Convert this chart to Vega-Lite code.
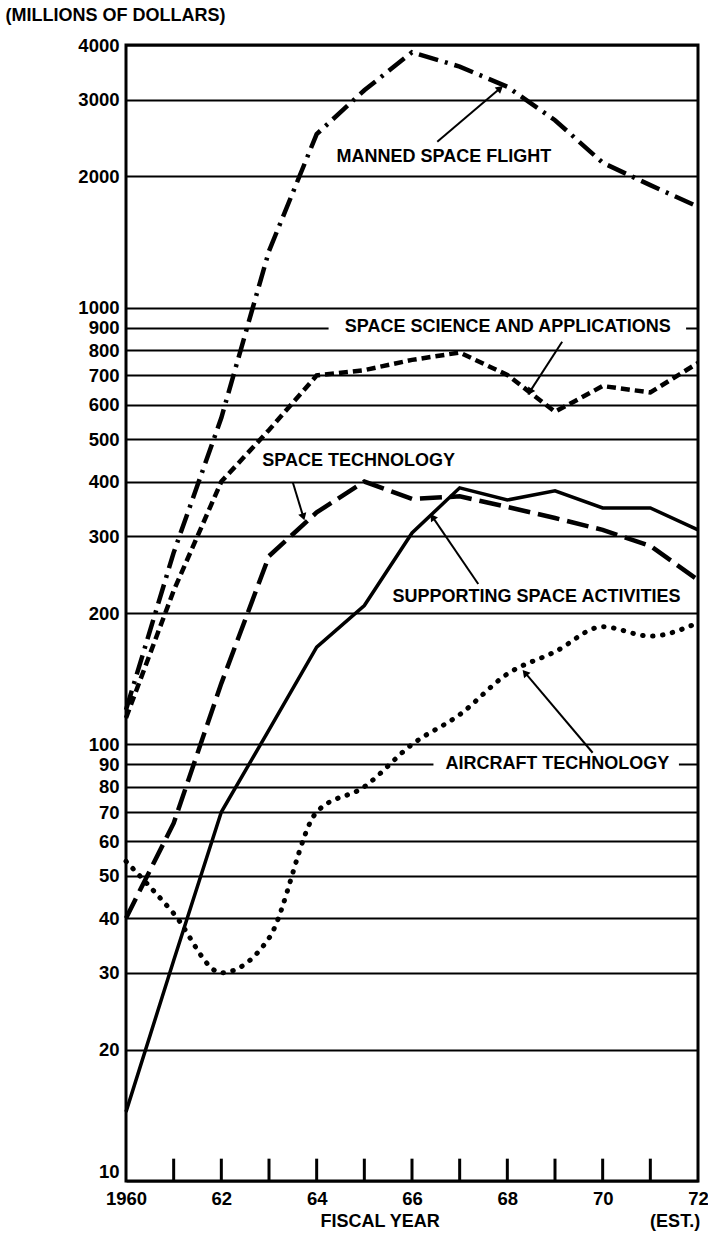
{
  "$schema": "https://vega.github.io/schema/vega-lite/v6.json",
  "width": 572,
  "height": 1136,
  "autosize": {"type": "none"},
  "padding": {"left": 126, "top": 45, "right": 10, "bottom": 60},
  "background": "white",
  "config": {
    "view": {"stroke": "black", "strokeWidth": 3},
    "font": "Liberation Sans"
  },
  "datasets": {
    "budget": [
      {"series": "Manned Space Flight", "year": 1960, "value": 120},
      {"series": "Manned Space Flight", "year": 1961, "value": 275},
      {"series": "Manned Space Flight", "year": 1962, "value": 560},
      {"series": "Manned Space Flight", "year": 1963, "value": 1350},
      {"series": "Manned Space Flight", "year": 1964, "value": 2500},
      {"series": "Manned Space Flight", "year": 1965, "value": 3150},
      {"series": "Manned Space Flight", "year": 1966, "value": 3850},
      {"series": "Manned Space Flight", "year": 1967, "value": 3570},
      {"series": "Manned Space Flight", "year": 1968, "value": 3210},
      {"series": "Manned Space Flight", "year": 1969, "value": 2690},
      {"series": "Manned Space Flight", "year": 1970, "value": 2150},
      {"series": "Manned Space Flight", "year": 1971, "value": 1910},
      {"series": "Manned Space Flight", "year": 1972, "value": 1705},
      {"series": "Space Science and Applications", "year": 1960, "value": 115},
      {"series": "Space Science and Applications", "year": 1961, "value": 225},
      {"series": "Space Science and Applications", "year": 1962, "value": 400},
      {"series": "Space Science and Applications", "year": 1963, "value": 525},
      {"series": "Space Science and Applications", "year": 1964, "value": 700},
      {"series": "Space Science and Applications", "year": 1965, "value": 720},
      {"series": "Space Science and Applications", "year": 1966, "value": 760},
      {"series": "Space Science and Applications", "year": 1967, "value": 790},
      {"series": "Space Science and Applications", "year": 1968, "value": 702},
      {"series": "Space Science and Applications", "year": 1969, "value": 578},
      {"series": "Space Science and Applications", "year": 1970, "value": 662},
      {"series": "Space Science and Applications", "year": 1971, "value": 640},
      {"series": "Space Science and Applications", "year": 1972, "value": 748},
      {"series": "Space Technology", "year": 1960, "value": 40},
      {"series": "Space Technology", "year": 1961, "value": 66},
      {"series": "Space Technology", "year": 1962, "value": 138},
      {"series": "Space Technology", "year": 1963, "value": 270},
      {"series": "Space Technology", "year": 1964, "value": 340},
      {"series": "Space Technology", "year": 1965, "value": 400},
      {"series": "Space Technology", "year": 1966, "value": 365},
      {"series": "Space Technology", "year": 1967, "value": 370},
      {"series": "Space Technology", "year": 1968, "value": 350},
      {"series": "Space Technology", "year": 1969, "value": 330},
      {"series": "Space Technology", "year": 1970, "value": 310},
      {"series": "Space Technology", "year": 1971, "value": 285},
      {"series": "Space Technology", "year": 1972, "value": 238},
      {"series": "Supporting Space Activities", "year": 1960, "value": 14.4},
      {"series": "Supporting Space Activities", "year": 1961, "value": 32},
      {"series": "Supporting Space Activities", "year": 1962, "value": 70},
      {"series": "Supporting Space Activities", "year": 1963, "value": 108},
      {"series": "Supporting Space Activities", "year": 1964, "value": 167},
      {"series": "Supporting Space Activities", "year": 1965, "value": 208},
      {"series": "Supporting Space Activities", "year": 1966, "value": 305},
      {"series": "Supporting Space Activities", "year": 1967, "value": 387},
      {"series": "Supporting Space Activities", "year": 1968, "value": 363},
      {"series": "Supporting Space Activities", "year": 1969, "value": 381},
      {"series": "Supporting Space Activities", "year": 1970, "value": 348},
      {"series": "Supporting Space Activities", "year": 1971, "value": 348},
      {"series": "Supporting Space Activities", "year": 1972, "value": 310},
      {"series": "Aircraft Technology", "year": 1960, "value": 54},
      {"series": "Aircraft Technology", "year": 1961, "value": 41},
      {"series": "Aircraft Technology", "year": 1962, "value": 30},
      {"series": "Aircraft Technology", "year": 1963, "value": 36},
      {"series": "Aircraft Technology", "year": 1964, "value": 70},
      {"series": "Aircraft Technology", "year": 1965, "value": 80},
      {"series": "Aircraft Technology", "year": 1966, "value": 100},
      {"series": "Aircraft Technology", "year": 1967, "value": 117},
      {"series": "Aircraft Technology", "year": 1968, "value": 145},
      {"series": "Aircraft Technology", "year": 1969, "value": 163},
      {"series": "Aircraft Technology", "year": 1970, "value": 186},
      {"series": "Aircraft Technology", "year": 1971, "value": 177},
      {"series": "Aircraft Technology", "year": 1972, "value": 190}
    ],
    "labels": [
      {"text": "MANNED SPACE FLIGHT", "year": 1966.67, "value": 2215},
      {"text": "SPACE SCIENCE AND APPLICATIONS", "year": 1968.01, "value": 903},
      {"text": "SPACE TECHNOLOGY", "year": 1964.88, "value": 446},
      {"text": "SUPPORTING SPACE ACTIVITIES", "year": 1968.61, "value": 218},
      {"text": "AIRCRAFT TECHNOLOGY", "year": 1969.05, "value": 90},
      {"text": "FISCAL YEAR", "year": 1965.33, "value": 8.05},
      {"text": "(EST.)", "year": 1971.52, "value": 8.05}
    ],
    "arrows": [
      {"label": "manned", "year": 1966.53, "value": 2401, "year2": 1967.85, "value2": 3184},
      {"label": "science", "year": 1969.15, "value": 836, "year2": 1968.47, "value2": 642},
      {"label": "tech", "year": 1963.5, "value": 398, "year2": 1963.72, "value2": 332},
      {"label": "supporting", "year": 1967.39, "value": 233, "year2": 1966.43, "value2": 332},
      {"label": "aircraft", "year": 1969.79, "value": 95.7, "year2": 1968.37, "value2": 146}
    ],
    "masks": [
      {"year": 1964.25, "year2": 1971.75, "value": 875, "value2": 930},
      {"year": 1966.45, "year2": 1971.6, "value": 87, "value2": 93}
    ],
    "ticks": [
      {"year": 1961, "value": 10, "value2": 11.25},
      {"year": 1962, "value": 10, "value2": 11.25},
      {"year": 1963, "value": 10, "value2": 11.25},
      {"year": 1964, "value": 10, "value2": 11.25},
      {"year": 1965, "value": 10, "value2": 11.25},
      {"year": 1966, "value": 10, "value2": 11.25},
      {"year": 1967, "value": 10, "value2": 11.25},
      {"year": 1968, "value": 10, "value2": 11.25},
      {"year": 1969, "value": 10, "value2": 11.25},
      {"year": 1970, "value": 10, "value2": 11.25},
      {"year": 1971, "value": 10, "value2": 11.25}
    ]
  },
  "encoding": {
    "x": {
      "field": "year",
      "type": "quantitative",
      "scale": {"domain": [1960, 1972], "nice": false, "zero": false},
      "axis": {
        "values": [1960, 1962, 1964, 1966, 1968, 1970, 1972],
        "labelExpr": "datum.value == 1960 ? '1960' : substring(toString(datum.value), 2)",
        "ticks": false,
        "grid": false,
        "domain": false,
        "labelFlush": false,
        "labelOverlap": false,
        "labelPadding": 8,
        "labelFontSize": 18.5,
        "labelFontWeight": "bold",
        "labelColor": "black",
        "title": null
      }
    },
    "y": {
      "field": "value",
      "type": "quantitative",
      "scale": {"type": "log", "domain": [10, 4000], "nice": false},
      "axis": {
        "values": [10, 20, 30, 40, 50, 60, 70, 80, 90, 100, 200, 300, 400, 500, 600, 700, 800, 900, 1000, 2000, 3000, 4000],
        "format": "d",
        "grid": true,
        "gridColor": "black",
        "gridWidth": 2,
        "gridOpacity": 1,
        "ticks": false,
        "domain": false,
        "labelFlush": false,
        "labelOverlap": false,
        "labelBound": false,
        "labelPadding": 7,
        "labelFontSize": 18.5,
        "labelFontWeight": "bold",
        "labelBaseline": {"condition": {"test": "datum.value == 10", "value": "bottom"}, "value": "middle"},
        "labelColor": "black",
        "title": "(MILLIONS OF DOLLARS)",
        "titleAngle": 0,
        "titleAlign": "left",
        "titleBaseline": "middle",
        "titleX": -121,
        "titleY": -30,
        "titleFontSize": 18,
        "titleFontWeight": "bold",
        "titleColor": "black"
      }
    }
  },
  "layer": [
    {
      "data": {"name": "masks"},
      "mark": {"type": "rect", "color": "white"},
      "encoding": {"x2": {"field": "year2"}, "y2": {"field": "value2"}}
    },
    {
      "data": {"name": "budget"},
      "transform": [{"filter": "datum.series == 'Manned Space Flight'"}],
      "mark": {"type": "line", "color": "black", "strokeWidth": 4.5, "strokeDash": [20, 7, 3, 7]}
    },
    {
      "data": {"name": "budget"},
      "transform": [{"filter": "datum.series == 'Space Science and Applications'"}],
      "mark": {"type": "line", "color": "black", "strokeWidth": 4.5, "strokeDash": [9, 5]}
    },
    {
      "data": {"name": "budget"},
      "transform": [{"filter": "datum.series == 'Space Technology'"}],
      "mark": {"type": "line", "color": "black", "strokeWidth": 4.5, "strokeDash": [22, 8]}
    },
    {
      "data": {"name": "budget"},
      "transform": [{"filter": "datum.series == 'Supporting Space Activities'"}],
      "mark": {"type": "line", "color": "black", "strokeWidth": 3.5}
    },
    {
      "data": {"name": "budget"},
      "transform": [{"filter": "datum.series == 'Aircraft Technology'"}],
      "mark": {"type": "line", "color": "black", "strokeWidth": 5, "strokeDash": [0.5, 9.5], "strokeCap": "round", "interpolate": "monotone"}
    },
    {
      "data": {"name": "ticks"},
      "mark": {"type": "rule", "color": "black", "strokeWidth": 3},
      "encoding": {"y2": {"field": "value2"}}
    },
    {
      "data": {"name": "arrows"},
      "mark": {"type": "rule", "color": "black", "strokeWidth": 2},
      "encoding": {"x2": {"field": "year2"}, "y2": {"field": "value2"}}
    },
    {
      "data": {"name": "arrows"},
      "transform": [{"filter": "datum.label == 'manned'"}],
      "mark": {"type": "point", "shape": "triangle-up", "filled": true, "color": "black", "opacity": 1, "size": 70, "angle": 50},
      "encoding": {"x": {"field": "year2", "type": "quantitative"}, "y": {"field": "value2", "type": "quantitative"}}
    },
    {
      "data": {"name": "arrows"},
      "transform": [{"filter": "datum.label == 'science'"}],
      "mark": {"type": "point", "shape": "triangle-up", "filled": true, "color": "black", "opacity": 1, "size": 70, "angle": 213},
      "encoding": {"x": {"field": "year2", "type": "quantitative"}, "y": {"field": "value2", "type": "quantitative"}}
    },
    {
      "data": {"name": "arrows"},
      "transform": [{"filter": "datum.label == 'tech'"}],
      "mark": {"type": "point", "shape": "triangle-up", "filled": true, "color": "black", "opacity": 1, "size": 70, "angle": 163},
      "encoding": {"x": {"field": "year2", "type": "quantitative"}, "y": {"field": "value2", "type": "quantitative"}}
    },
    {
      "data": {"name": "arrows"},
      "transform": [{"filter": "datum.label == 'supporting'"}],
      "mark": {"type": "point", "shape": "triangle-up", "filled": true, "color": "black", "opacity": 1, "size": 70, "angle": 326},
      "encoding": {"x": {"field": "year2", "type": "quantitative"}, "y": {"field": "value2", "type": "quantitative"}}
    },
    {
      "data": {"name": "arrows"},
      "transform": [{"filter": "datum.label == 'aircraft'"}],
      "mark": {"type": "point", "shape": "triangle-up", "filled": true, "color": "black", "opacity": 1, "size": 70, "angle": 320},
      "encoding": {"x": {"field": "year2", "type": "quantitative"}, "y": {"field": "value2", "type": "quantitative"}}
    },
    {
      "data": {"name": "labels"},
      "mark": {"type": "text", "color": "black", "fontSize": 18, "fontWeight": "bold", "align": "center", "baseline": "middle", "font": "Liberation Sans"},
      "encoding": {"text": {"field": "text"}}
    }
  ]
}
